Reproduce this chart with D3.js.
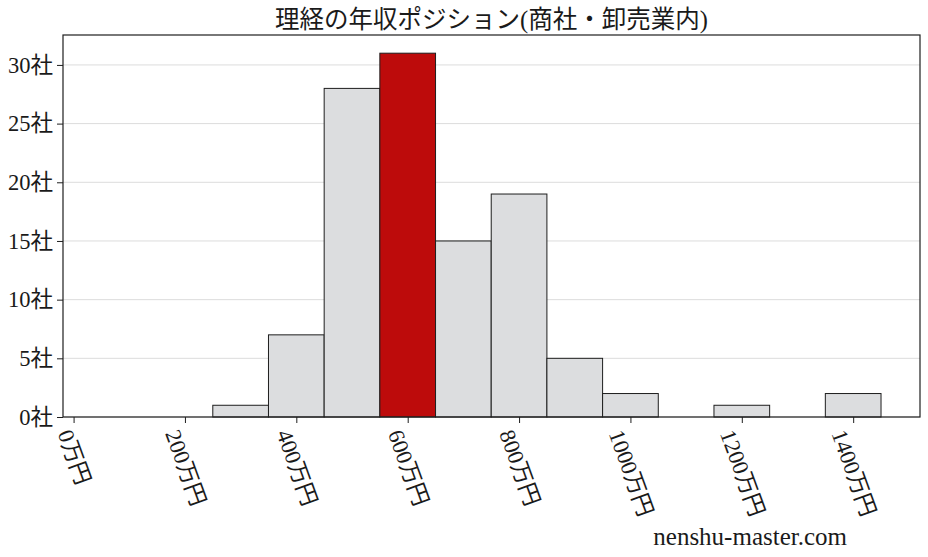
<!DOCTYPE html>
<html>
<head>
<meta charset="utf-8">
<script src="https://cdn.jsdelivr.net/npm/d3@7"></script>
<style>
  body { margin: 0; background: #fff; }
  text { font-family: "Liberation Serif", "DejaVu Serif", "Noto Sans CJK JP", serif; fill: #1a1a1a; }
</style>
</head>
<body>
<div id="chart"></div>
<script>
var svgWidth = 928;
var svgHeight = 557;

// axes box
var margin = { top: 35, right: 8, bottom: 140, left: 63 };
var width = svgWidth - margin.left - margin.right;
var height = svgHeight - margin.top - margin.bottom;

// data: bin edges (万円) and company counts per bin
var binStarts = [250, 350, 450, 550, 650, 750, 850, 950, 1050, 1150, 1250, 1350];
var counts    = [1,   7,   28,  31,  15,  19,  5,   2,   0,    1,    0,    2];
var binWidth = 100;
var highlightBin = 550; // the company's own bin

var xTicks = [0, 200, 400, 600, 800, 1000, 1200, 1400];
var yTicks = [0, 5, 10, 15, 20, 25, 30];

var titleText = "理経の年収ポジション(商社・卸売業内)";
var watermark = "nenshu-master.com";

var svg = d3.select("#chart")
  .append("svg")
  .attr("width", svgWidth)
  .attr("height", svgHeight);

var chartGroup = svg.append("g")
  .attr("transform", `translate(${margin.left}, ${margin.top})`);

var xScale = d3.scaleLinear()
  .domain([-19, 1520])
  .range([0, width]);

var yScale = d3.scaleLinear()
  .domain([0, d3.max(counts) * 1.05])
  .range([height, 0]);

// grid lines
chartGroup.append("g")
  .selectAll("line")
  .data(yTicks)
  .enter()
  .append("line")
  .attr("x1", 0)
  .attr("x2", width)
  .attr("y1", d => yScale(d))
  .attr("y2", d => yScale(d))
  .attr("stroke", "#dcdcdc")
  .attr("stroke-width", 1);

// bars
chartGroup.selectAll("rect.bar")
  .data(binStarts)
  .enter()
  .append("rect")
  .attr("class", "bar")
  .attr("x", d => xScale(d))
  .attr("width", d => xScale(d + binWidth) - xScale(d))
  .attr("y", (d, i) => yScale(counts[i]))
  .attr("height", (d, i) => yScale(0) - yScale(counts[i]))
  .attr("fill", d => d === highlightBin ? "#bd0b0b" : "#dcdddf")
  .attr("stroke", "#1e1e1e")
  .attr("stroke-width", (d, i) => counts[i] > 0 ? 1 : 0);

// frame
chartGroup.append("rect")
  .attr("width", width)
  .attr("height", height)
  .attr("fill", "none")
  .attr("stroke", "#1e1e1e")
  .attr("stroke-width", 1.2);

// y axis
var yAxis = chartGroup.append("g")
  .call(d3.axisLeft(yScale).tickValues(yTicks).tickSize(6).tickPadding(4).tickFormat(d => d + "社"));
yAxis.select(".domain").remove();
yAxis.selectAll("line").attr("stroke", "#1e1e1e");
yAxis.selectAll("text")
  .attr("font-size", 22.5)
  .attr("fill", "#1a1a1a")
  .attr("font-family", null);

// x axis with rotated labels
var xAxis = chartGroup.append("g")
  .attr("transform", `translate(0, ${height})`)
  .call(d3.axisBottom(xScale).tickValues(xTicks).tickSize(6).tickFormat(d => d + "万円"));
xAxis.select(".domain").remove();
xAxis.selectAll("line").attr("stroke", "#1e1e1e");
xAxis.selectAll("text")
  .attr("font-size", 22.5)
  .attr("fill", "#1a1a1a")
  .attr("font-family", null)
  .attr("dy", null)
  .attr("text-anchor", "middle")
  .attr("dominant-baseline", "central")
  .each(function () {
    var t = d3.select(this);
    var len = this.getComputedTextLength();
    var a = 70 * Math.PI / 180;
    var boxH = len * Math.sin(a) + 22 * Math.cos(a);
    var cy = 10 + boxH / 2;
    t.attr("y", null).attr("x", null)
      .attr("transform", `translate(0, ${cy}) rotate(70)`);
  });

// title
svg.append("text")
  .attr("x", margin.left + width / 2)
  .attr("y", 28)
  .attr("text-anchor", "middle")
  .attr("font-size", 24.5)
  .text(titleText);

// watermark
svg.append("text")
  .attr("x", 847)
  .attr("y", 545)
  .attr("text-anchor", "end")
  .attr("font-size", 25)
  .text(watermark);
</script>
</body>
</html>
